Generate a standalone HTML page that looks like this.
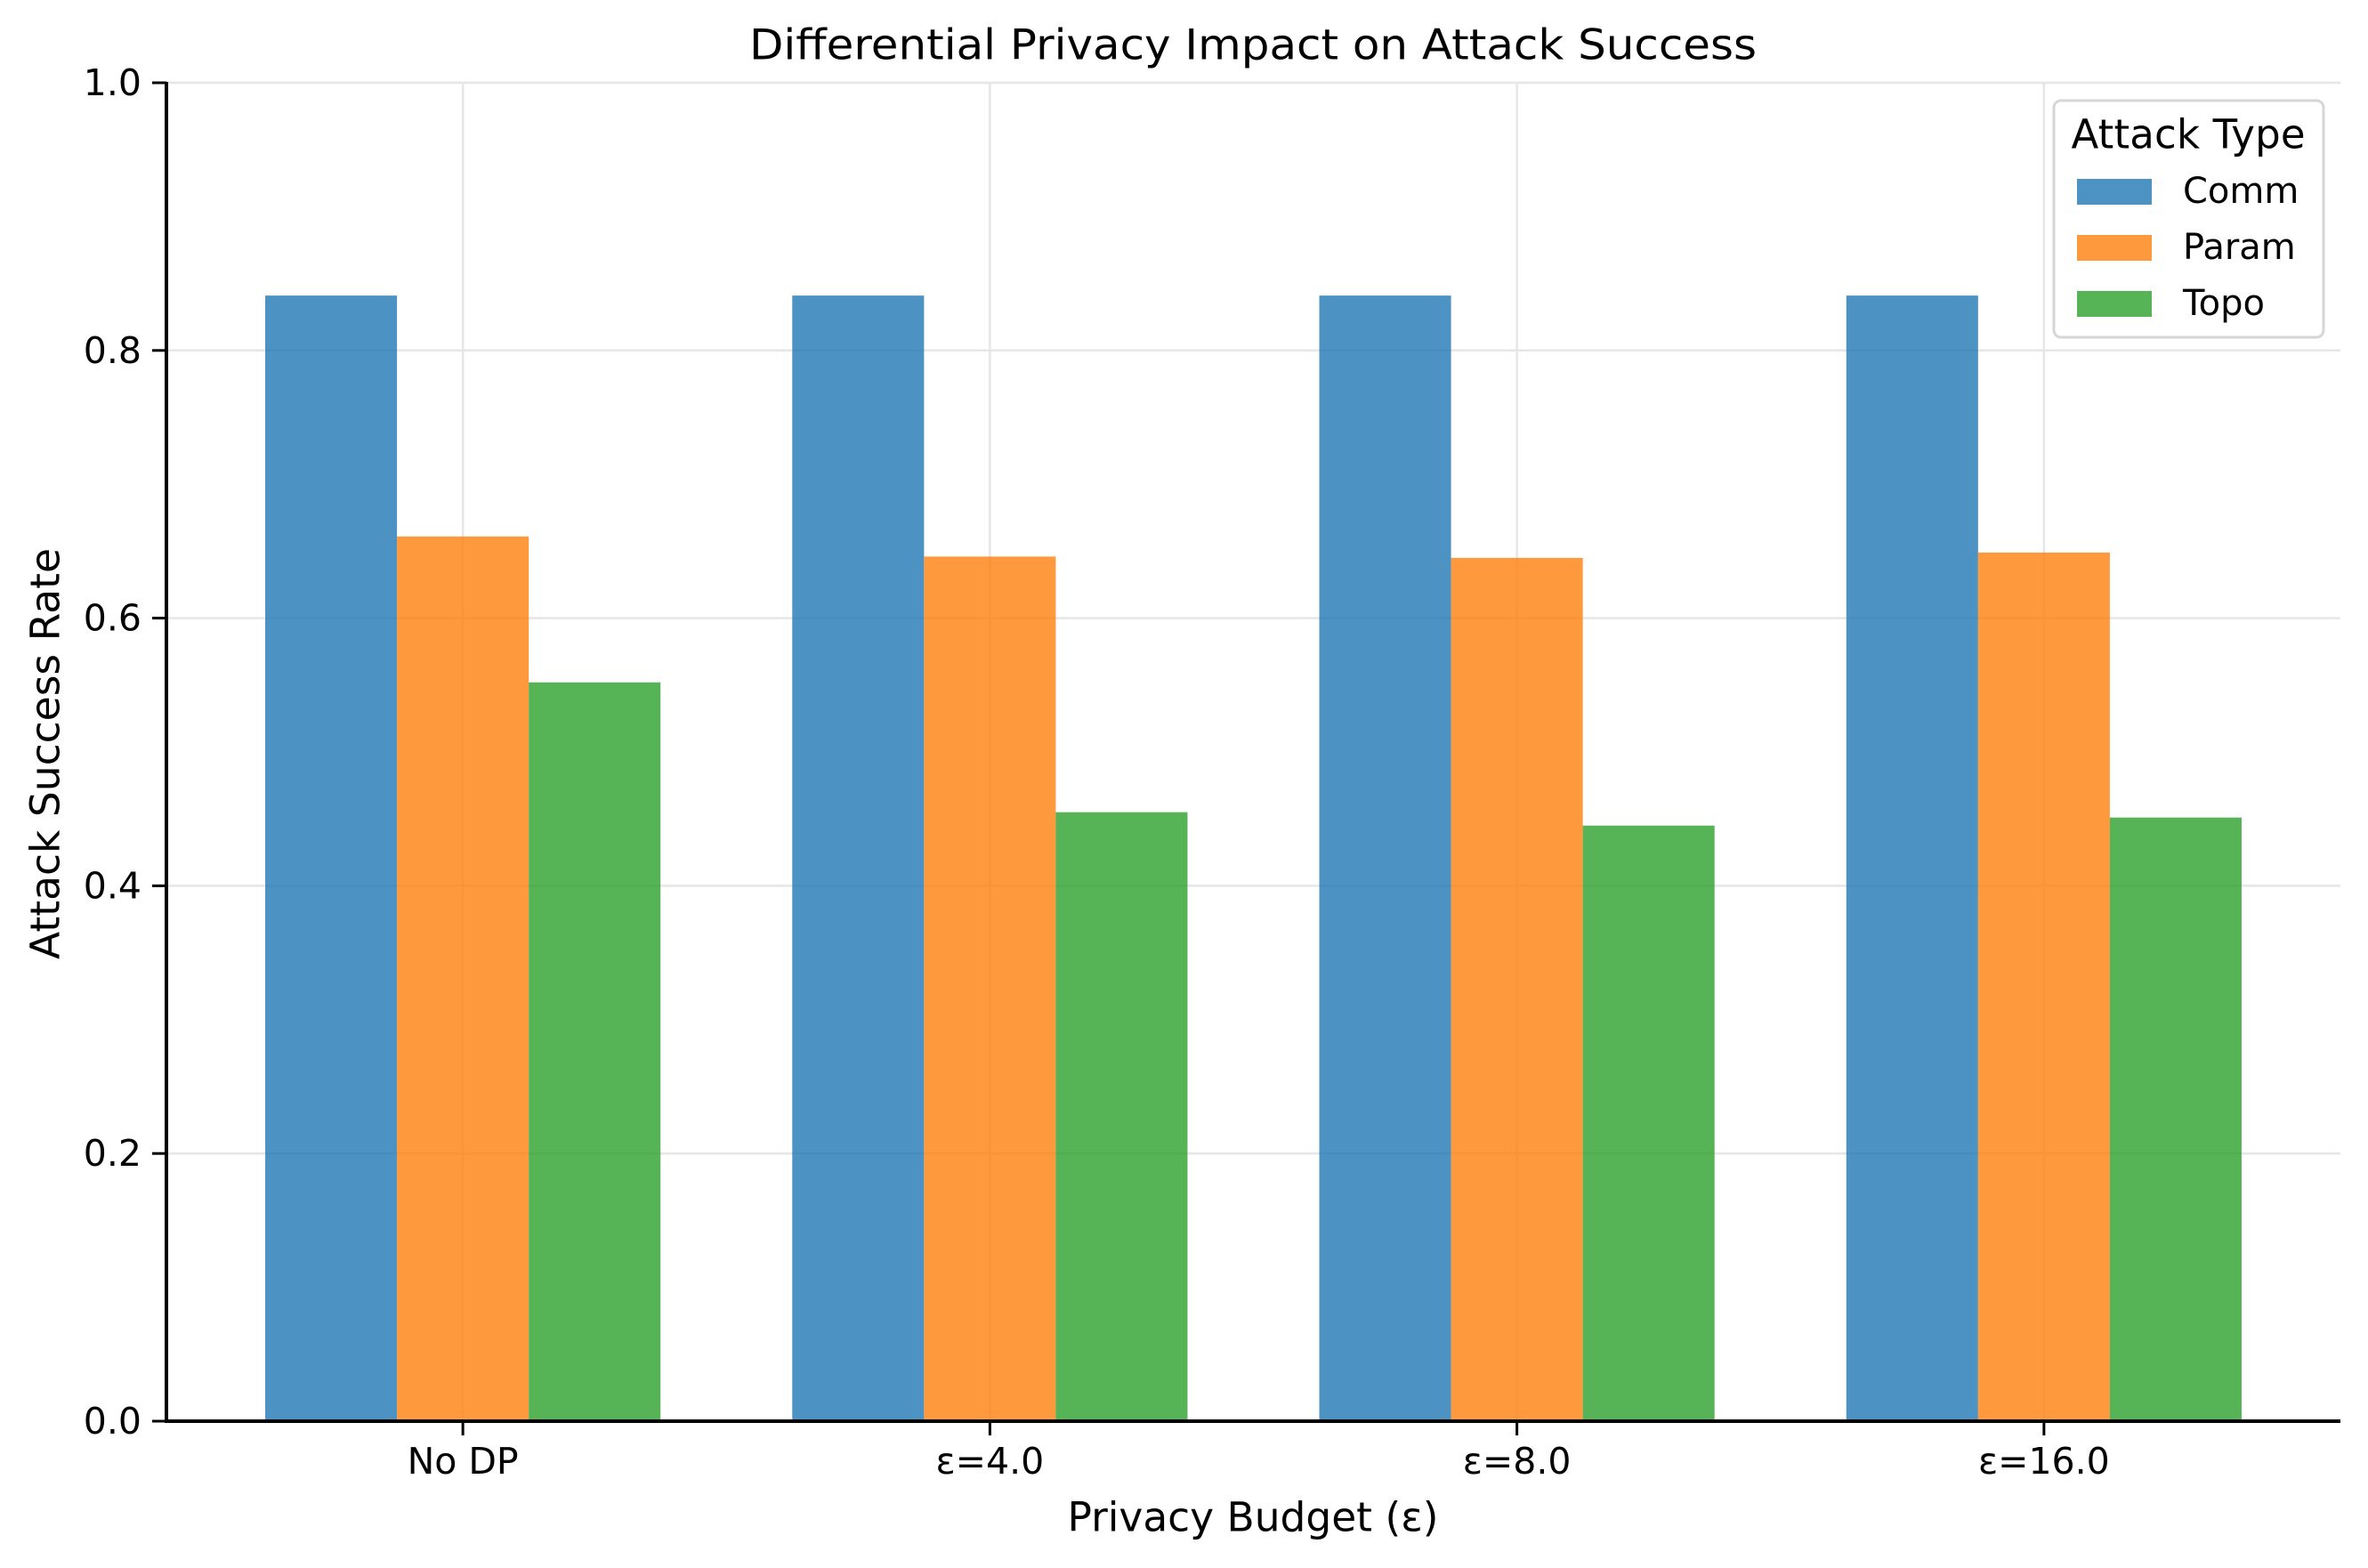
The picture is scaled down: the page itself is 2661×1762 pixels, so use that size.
<!DOCTYPE html>
<html><head><meta charset="utf-8"><style>
html,body{margin:0;padding:0;background:#fff;}
svg{display:block;font-family:"DejaVu Sans","Liberation Sans",sans-serif;}
</style></head><body>
<svg id="chart" width="2661" height="1762" viewBox="0 0 2661 1762" xmlns="http://www.w3.org/2000/svg">
<rect width="2661" height="1762" fill="#fff"/>
<g id="grid"></g>
<g id="bars"></g>
<g id="axes"></g>
<text x="1408" y="51" text-anchor="middle" dominant-baseline="central" font-size="47" textLength="1132" lengthAdjust="spacingAndGlyphs">Differential Privacy Impact on Attack Success</text>
<text x="1408" y="1705" text-anchor="middle" dominant-baseline="central" font-size="45" textLength="417" lengthAdjust="spacingAndGlyphs">Privacy Budget (ε)</text>
<text transform="translate(51,847) rotate(-90)" text-anchor="middle" dominant-baseline="central" font-size="45" textLength="462" lengthAdjust="spacingAndGlyphs">Attack Success Rate</text>
<g id="legend">
<rect x="2308" y="113" width="303" height="266" rx="8" fill="#fff" fill-opacity="0.8" stroke="#d6d6d6" stroke-width="3"/>
<text x="2459" y="151" text-anchor="middle" dominant-baseline="central" font-size="45" textLength="263">Attack Type</text>
</g>
</svg>
<script>
const categories = ["No DP", "ε=4.0", "ε=8.0", "ε=16.0"];
const seriesNames = ["Comm", "Param", "Topo"];
const commValues = [0.841, 0.841, 0.841, 0.841];
const paramValues = [0.661, 0.646, 0.645, 0.649];
const topoValues = [0.552, 0.455, 0.445, 0.451];
const yTicks = [0.0, 0.2, 0.4, 0.6, 0.8, 1.0];
const yTickLabels = ["0.0", "0.2", "0.4", "0.6", "0.8", "1.0"];

const NS = "http://www.w3.org/2000/svg";
const L = 187, R = 2630, T = 93, B = 1597;
const xMin = -0.5625, xMax = 3.5625;
const xs = v => L + (v - xMin) / (xMax - xMin) * (R - L);
const ys = v => B - v / 1.0 * (B - T);
const colors = ["#1f77b4", "#ff7f0e", "#2ca02c"];
const series = [commValues, paramValues, topoValues];
const barW = 0.25;

function mk(tag, attrs, parent) {
  const e = document.createElementNS(NS, tag);
  for (const k in attrs) e.setAttribute(k, attrs[k]);
  parent.appendChild(e);
  return e;
}
const grid = document.getElementById("grid");
const bars = document.getElementById("bars");
const axes = document.getElementById("axes");
const legend = document.getElementById("legend");

yTicks.forEach((t, i) => {
  const g = mk("line", {x1: L, x2: R, y1: ys(t), y2: ys(t), stroke: "#e6e6e6", "stroke-width": 2.5}, grid);
  
  
  const tk = mk("line", {x1: L - 16, x2: L, y1: ys(t), y2: ys(t), stroke: "#000", "stroke-width": 3}, axes);
  
  
  const lb = mk("text", {x: L - 28, y: ys(t), "text-anchor": "end", "dominant-baseline": "central", "font-size": 41}, axes);
  lb.textContent = yTickLabels[i];
  
  
});
categories.forEach((c, i) => {
  const g = mk("line", {x1: xs(i), x2: xs(i), y1: T, y2: B, stroke: "#e6e6e6", "stroke-width": 2.5}, grid);
  
  
  const tk = mk("line", {x1: xs(i), x2: xs(i), y1: B, y2: B + 16, stroke: "#000", "stroke-width": 3}, axes);
  
  
  const lb = mk("text", {x: xs(i), y: B + 45, "text-anchor": "middle", "dominant-baseline": "central", "font-size": 41}, axes);
  lb.textContent = c;
  
  
});
series.forEach((vals, s) => {
  vals.forEach((v, i) => {
    const c = i + (s - 1) * barW;
    const x0 = xs(c - barW / 2), x1 = xs(c + barW / 2);
    const r = mk("rect", {x: x0, y: ys(v), width: x1 - x0, height: ys(0) - ys(v), fill: colors[s], "fill-opacity": 0.8}, bars);
    
    
  });
  const ly = 215 + s * 63;
  const p = mk("rect", {x: 2334, y: ly - 14, width: 84, height: 29, fill: colors[s], "fill-opacity": 0.8}, legend);
  
  
  const t = mk("text", {x: 2453, y: ly, "dominant-baseline": "central", "font-size": 40}, legend);
  t.textContent = seriesNames[s];
  
  
});
const ly = mk("line", {x1: L, x2: L, y1: T - 1, y2: B + 1.5, stroke: "#000", "stroke-width": 4}, axes);


const lx = mk("line", {x1: L - 2, x2: R, y1: B, y2: B, stroke: "#000", "stroke-width": 4}, axes);


</script>
</body></html>
